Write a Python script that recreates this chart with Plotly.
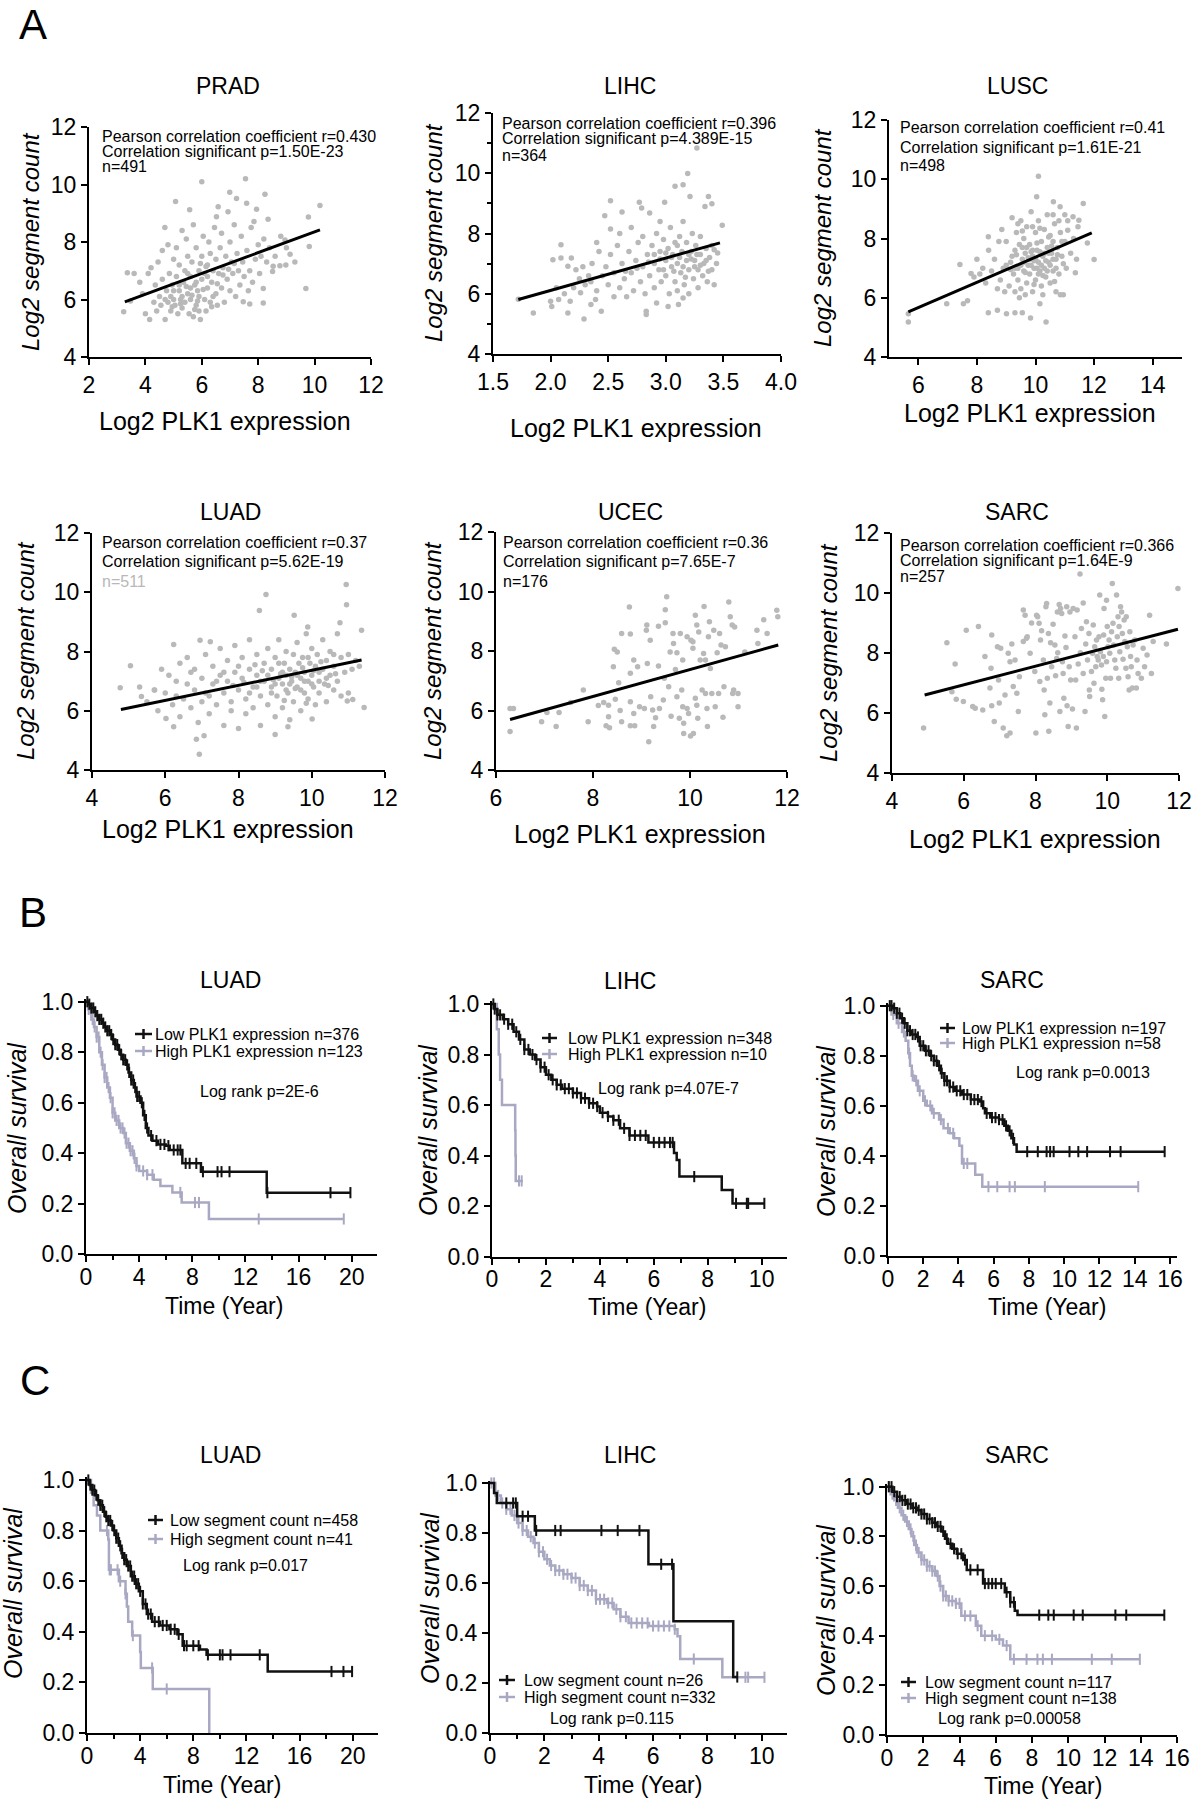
import plotly.graph_objects as go

W, H = 1192, 1800
FONT = "Liberation Sans, Arial, Helvetica, sans-serif"
PT_COL = "#b9b9b9"
LOW_C = "#111111"
HIGH_C = "#a9a8c3"

# ---------------- Panel A data (Log2 PLK1 expression, Log2 segment count) ----------------
prad_pts = [(6.0,10.1),(7.55,10.2),(5.07,9.41),(6.99,9.73),(7.23,9.51),(8.24,9.66),(10.19,9.27),(9.78,8.87),(9.81,7.84),(9.69,6.38),
    (5.57,9.12),(6.58,9.23),(6.93,9.05),(7.59,9.35),(7.94,9.14),(4.69,8.5),(6.52,8.88),(8.35,8.79),(7.85,8.71),(8.95,8.07),
    (9.13,7.57),(8.98,7.2),(8.77,7.17),(8.53,7.16),(8.51,6.97),(8.18,6.38),(8.18,5.88),(7.7,5.84),(7.47,5.92),(3.23,5.57),
    (3.36,6.93),(3.47,5.95),(3.6,6.9),(3.8,6.6),(3.9,6.2),(4.0,5.5),(4.1,6.9),(4.15,5.3),(4.2,7.1),(4.3,5.9),(4.35,6.5),
    (4.4,5.6),(4.45,7.3),(4.5,6.1),(4.55,5.8),(4.6,7.7),(4.6,6.7),(4.7,5.3),(4.75,6.3),(4.8,7.9),(4.8,5.9),(4.85,6.9),
    (4.9,5.6),(4.95,6.5),(5.0,7.4),(5.0,6.0),(5.05,5.8),(5.1,6.8),(5.1,7.8),(5.15,5.5),(5.2,6.3),(5.2,7.2),(5.25,6.0),
    (5.3,8.4),(5.3,5.7),(5.35,6.6),(5.4,7.0),(5.4,5.9),(5.45,8.1),(5.5,6.2),(5.5,7.5),(5.55,5.5),(5.6,6.8),(5.6,6.0),
    (5.65,7.3),(5.7,5.4),(5.7,8.6),(5.75,6.5),(5.8,7.8),(5.8,5.8),(5.85,6.3),(5.9,7.0),(5.9,6.1),(5.95,5.3),(6.0,6.7),
    (6.0,7.5),(6.05,8.2),(6.1,6.0),(6.1,6.9),(6.15,5.6),(6.2,7.2),(6.2,6.4),(6.25,8.0),(6.3,5.9),(6.3,7.6),(6.35,6.6),
    (6.4,7.0),(6.45,8.5),(6.5,6.2),(6.5,7.4),(6.55,5.8),(6.6,6.9),(6.65,7.8),(6.7,6.4),(6.7,8.3),(6.75,7.1),(6.8,5.9),
    (6.85,7.5),(6.9,6.7),(7.0,8.0),(7.0,6.3),(7.05,7.3),(7.1,6.9),(7.15,8.6),(7.2,6.1),(7.25,7.6),(7.3,7.0),(7.35,6.5),
    (7.4,8.2),(7.45,7.3),(7.5,6.8),(7.6,7.7),(7.65,6.3),(7.7,7.0),(7.75,8.5),(7.8,6.6),(7.9,7.4),(8.0,7.9),(8.05,6.9),
    (8.1,7.5),(8.2,8.1),(8.3,7.3),(8.4,7.8),(8.6,7.5),(8.8,8.2),(9.0,7.8),(9.3,7.3),(5.2,6.5),(5.6,6.4),(5.0,6.3),(4.9,6.1),
    (5.3,6.1),(5.8,6.6),(6.2,6.8),(5.5,6.9),(4.7,6.0),(5.9,5.6),(6.4,6.1),(5.45,6.45),(5.65,6.15),(5.85,5.95),(6.05,6.35),
    (5.25,5.85),(5.75,5.65),(6.35,5.75),(4.95,5.75),(6.55,6.55),(6.75,6.85),(6.15,7.15),(5.95,7.25),(6.95,7.05),(7.15,7.25)]
prad_fit_x = [3.27, 10.19]
prad_fit_y = [5.92, 8.42]

lihc_pts = [(3.27,10.84),(3.19,9.99),(3.08,9.57),(3.15,9.62),(2.52,9.09),(2.77,9.04),(2.99,9.04),(3.21,9.23),(3.37,9.23),
    (3.40,8.99),(3.34,8.9),(3.49,8.27),(2.47,8.59),(2.62,8.71),(2.86,8.68),(2.95,8.4),(2.79,8.85),(2.52,8.15),(2.09,7.63),
    (2.02,7.13),(2.09,7.19),(2.18,7.19),(2.15,6.91),(2.22,6.8),(2.26,6.03),(2.17,5.75),(2.07,5.81),(2.0,5.75),(2.01,5.58),
    (1.85,5.36),(2.15,5.36),(2.29,5.16),(2.35,5.64),(2.39,5.81),(2.44,5.42),(2.83,5.42),(2.92,5.69),(3.02,5.58),(3.11,5.64),
    (3.15,5.86),(2.83,5.31),(3.42,7.46),(3.45,7.35),(1.72,5.82),(2.3,6.3),(2.33,6.6),(2.36,7.0),(2.4,6.1),(2.42,7.4),
    (2.45,6.6),(2.48,6.9),(2.5,6.3),(2.52,7.3),(2.55,5.9),(2.55,6.7),(2.58,7.6),(2.6,6.2),(2.62,7.0),(2.64,6.5),(2.66,5.9),
    (2.68,7.4),(2.7,6.7),(2.72,6.1),(2.74,7.1),(2.76,7.7),(2.78,6.4),(2.8,6.9),(2.8,7.9),(2.82,6.0),(2.84,7.3),(2.86,6.6),
    (2.88,7.6),(2.9,6.2),(2.9,7.0),(2.92,8.0),(2.94,6.8),(2.95,7.4),(2.96,6.4),(2.98,7.8),(3.0,7.1),(3.0,6.6),(3.02,7.5),
    (3.03,6.0),(3.04,8.2),(3.05,6.9),(3.06,7.3),(3.08,6.4),(3.08,7.7),(3.1,7.0),(3.1,6.1),(3.12,7.9),(3.13,6.7),(3.14,7.4),
    (3.15,8.4),(3.16,6.3),(3.18,7.1),(3.18,7.7),(3.2,6.8),(3.2,6.0),(3.22,7.4),(3.23,8.0),(3.24,6.5),(3.25,7.1),(3.26,7.6),
    (3.28,6.8),(3.28,6.2),(3.3,7.3),(3.3,7.9),(3.32,6.6),(3.33,7.0),(3.35,7.5),(3.36,6.4),(3.38,7.2),(3.4,6.8),(3.4,7.6),
    (3.42,6.3),(3.44,7.0),(2.25,6.5),(2.2,6.2),(2.28,6.9),(2.35,6.4),(2.12,6.0),(2.05,6.2),(2.4,7.7),(2.7,8.2),(2.6,8.0),
    (3.05,7.2),(3.12,7.2),(3.2,7.3),(3.27,7.3),(3.35,7.1),(2.98,6.8),(3.15,6.9),(3.25,6.9),(2.9,7.3),(3.1,7.6),
    (2.85,7.05),(2.95,7.15),(3.07,6.75),(3.17,6.55),(3.3,6.95),(2.75,6.85),(2.65,6.75),(3.37,6.75),(3.22,7.15),(3.0,7.35)]
lihc_fit_x = [1.72, 3.47]
lihc_fit_y = [5.81, 7.69]

lusc_pts = [(10.1,10.1),(10.04,9.41),(10.61,9.24),(11.63,9.18),(10.84,9.07),(5.66,5.46),(5.66,5.18),(6.97,5.8),(7.54,5.8),
    (7.68,5.9),(7.42,7.12),(7.8,6.82),(8.39,8.06),(8.39,5.49),(8.7,5.58),(9.01,5.46),(9.3,5.49),(9.55,5.49),(9.83,5.32),
    (10.36,5.18),(10.15,5.8),(12.0,7.29),(11.77,7.85),(11.36,6.84),(11.48,8.62),(11.28,8.73),(11.1,8.28),
    (9.0,7.9),(9.1,6.4),(9.15,7.2),(9.2,8.7),(9.25,6.8),(9.3,7.6),(9.3,6.2),(9.35,8.2),(9.4,7.0),(9.4,6.6),(9.45,7.8),
    (9.5,8.6),(9.5,6.3),(9.55,7.3),(9.6,6.9),(9.6,8.0),(9.65,7.5),(9.7,6.5),(9.7,8.4),(9.75,7.1),(9.8,6.8),(9.8,7.8),
    (9.85,8.9),(9.9,6.2),(9.9,7.4),(9.95,7.0),(10.0,8.2),(10.0,6.6),(10.05,7.6),(10.1,7.2),(10.1,8.6),(10.15,6.9),
    (10.2,7.9),(10.2,6.4),(10.25,7.4),(10.3,8.3),(10.3,7.0),(10.35,6.7),(10.4,7.7),(10.4,8.8),(10.45,7.2),(10.5,6.5),
    (10.5,8.1),(10.55,7.5),(10.6,6.9),(10.6,7.9),(10.65,8.5),(10.7,7.3),(10.7,6.2),(10.75,7.7),(10.8,6.8),(10.85,8.2),
    (10.9,7.4),(10.95,6.1),(11.0,7.9),(11.05,7.0),(11.1,8.6),(11.2,7.5),(11.3,8.0),(11.4,7.3),(11.45,8.4),(8.4,7.6),
    (8.5,6.9),(8.6,7.3),(8.7,6.3),(8.75,7.9),(8.8,6.6),(8.85,8.3),(8.9,7.0),(8.95,6.2),(8.2,7.0),(8.3,6.5),(8.1,6.8),
    (7.9,6.7),(8.0,7.3),(9.2,7.4),(9.6,7.2),(9.9,7.6),(10.0,7.3),(10.1,6.8),(10.3,7.5),(10.5,7.1),(10.7,7.0),(10.2,7.1),
    (9.7,7.7),(9.5,7.1),(9.8,7.3),(10.4,6.9),(10.6,7.3),(9.3,7.0),(9.0,7.1),(10.9,7.9),(10.8,8.6),(9.4,8.5),(9.9,8.4),
    (10.6,8.8),(11.0,8.8),(9.65,6.1),(10.25,6.1),(10.85,6.1),(9.45,6.0),(10.05,7.0),(9.85,7.1),(10.45,7.5),(9.55,7.7),
    (9.75,7.35),(9.95,7.25),(10.15,7.55),(10.35,7.25),(10.55,7.75),(9.85,7.55),(10.05,7.85),(9.65,6.85),(10.25,6.75),
    (10.45,8.05),(9.35,7.45),(9.15,6.95),(10.75,7.45),(10.95,7.15),(9.55,8.25),(10.15,8.35),(9.95,6.45),(10.65,6.55)]
lusc_fit_x = [5.66, 11.92]
lusc_fit_y = [5.52, 8.19]

luad_pts = [(10.94,10.26),(10.95,9.58),(8.75,9.92),(8.57,9.38),(9.52,9.22),(10.77,8.97),(11.36,8.72),(9.89,8.83),
    (11.43,6.11),(4.77,6.78),(5.05,7.52),(5.35,6.48),(5.71,6.7),(6.23,8.24),(6.95,8.38),(7.23,8.33),(6.02,5.74),(6.23,5.46),
    (6.85,5.04),(7.06,5.16),(6.93,4.53),(9.0,5.2),(9.35,5.46),(10.01,5.72),(11.12,6.38),(10.97,6.33),
    (5.5,6.3),(5.8,6.0),(5.9,7.4),(6.0,6.6),(6.1,7.2),(6.2,6.2),(6.3,7.0),(6.4,5.8),(6.4,7.6),(6.5,6.4),(6.6,6.9),(6.6,7.8),
    (6.7,6.1),(6.8,6.7),(6.8,7.4),(6.9,5.6),(7.0,6.3),(7.0,7.1),(7.1,7.9),(7.1,6.6),(7.2,5.9),(7.3,6.9),(7.3,7.5),(7.4,6.2),
    (7.5,7.2),(7.5,8.1),(7.6,6.6),(7.6,5.5),(7.7,7.0),(7.7,7.7),(7.8,6.3),(7.8,6.0),(7.9,7.3),(7.9,8.2),(8.0,6.7),(8.0,5.4),
    (8.1,7.1),(8.1,7.8),(8.2,6.4),(8.2,5.9),(8.3,7.4),(8.3,8.4),(8.4,6.8),(8.4,6.1),(8.5,7.2),(8.5,7.9),(8.6,6.5),(8.6,5.5),
    (8.7,7.0),(8.7,7.6),(8.8,6.2),(8.8,8.1),(8.9,6.8),(8.9,7.4),(9.0,5.8),(9.0,7.8),(9.05,6.5),(9.1,7.1),(9.1,8.4),(9.2,6.9),
    (9.2,6.1),(9.25,7.6),(9.3,7.2),(9.3,8.0),(9.35,6.6),(9.4,7.4),(9.4,5.7),(9.45,7.0),(9.5,7.9),(9.5,6.3),(9.55,7.3),
    (9.6,8.3),(9.6,6.8),(9.65,7.6),(9.7,7.1),(9.7,6.0),(9.75,7.8),(9.8,6.6),(9.8,7.3),(9.85,8.6),(9.9,7.0),(9.9,6.4),
    (9.95,7.6),(10.0,7.2),(10.0,8.1),(10.05,6.8),(10.1,7.5),(10.1,6.2),(10.15,7.9),(10.2,7.0),(10.2,6.6),(10.3,7.4),
    (10.3,8.4),(10.35,6.9),(10.4,7.7),(10.4,6.3),(10.5,7.2),(10.5,8.0),(10.6,6.7),(10.6,7.5),(10.7,8.6),(10.7,7.0),
    (10.8,7.8),(10.8,6.5),(10.9,7.3),(11.0,7.9),(11.0,6.6),(11.1,7.4),(11.2,7.7),(11.3,7.5),(9.0,6.9),(9.2,7.3),(9.4,6.9),
    (9.6,7.2),(9.8,7.0),(10.0,6.9),(8.8,7.2),(8.6,7.0),(10.2,7.3),(10.4,7.1),(9.3,6.7),(9.7,6.7),(8.9,6.6),(8.3,6.6),
    (7.4,7.0),(7.2,6.5),(6.7,7.3),(6.3,6.5),(5.7,6.7),(5.3,6.8),(8.5,6.8),(9.1,7.6),(9.9,7.8),(10.6,7.9),(8.0,7.5),(7.6,7.3),
    (9.15,7.25),(9.45,7.15),(9.75,7.45),(10.05,7.35),(10.25,7.65),(9.55,6.75),(8.95,7.05),(10.45,6.85),(8.65,7.35),
    (7.85,6.85),(8.15,6.95),(9.85,6.25),(10.65,7.25),(8.45,7.55),(9.25,6.35)]
luad_fit_x = [4.79, 11.36]
luad_fit_y = [6.04, 7.71]

ucec_pts = [(6.29,6.07),(6.36,6.07),(6.29,5.29),(6.94,5.62),(7.05,5.93),(7.24,5.46),(7.30,5.93),(7.54,6.27),(7.80,6.69),
    (7.90,5.62),(8.11,6.17),(8.22,6.27),(8.32,6.18),(8.32,5.79),(8.27,5.49),(8.34,5.42),(8.44,8.06),(8.50,7.97),(8.46,6.38),
    (8.53,6.93),(8.56,6.0),(8.59,5.62),(8.59,8.59),(8.75,9.48),(8.77,8.57),(8.77,7.25),(8.77,6.29),(8.77,5.49),(8.84,5.9),
    (8.86,5.49),(8.84,7.7),(8.92,7.47),(8.96,6.13),(9.06,6.07),(9.10,8.70),(9.11,8.87),(9.12,7.58),(9.15,4.95),(9.18,8.36),
    (9.19,6.46),(9.23,6.02),(9.25,5.46),(9.29,5.76),(9.35,8.83),(9.35,7.5),(9.37,6.07),(9.45,6.35),(9.47,7.08),(9.49,8.95),
    (9.49,9.39),(9.52,9.82),(9.56,6.8),(9.59,7.97),(9.61,5.81),(9.65,8.59),(9.66,8.25),(9.70,7.38),(9.73,7.94),(9.73,6.46),
    (9.78,5.74),(9.80,8.59),(9.83,6.69),(9.85,7.7),(9.85,6.13),(9.87,5.57),(9.87,5.23),(9.94,6.07),(9.94,8.48),(9.97,5.9),
    (10.01,5.14),(10.02,8.36),(10.06,8.09),(10.06,8.31),(10.07,5.23),(10.11,9.2),(10.11,6.41),(10.14,8.87),(10.14,6.18),
    (10.16,5.74),(10.18,8.64),(10.21,7.7),(10.25,6.69),(10.28,7.92),(10.29,9.5),(10.32,7.7),(10.32,6.57),(10.35,6.07),
    (10.36,5.46),(10.38,8.48),(10.40,8.98),(10.42,7.41),(10.45,6.57),(10.49,8.7),(10.52,6.13),(10.56,7.94),(10.59,6.57),
    (10.61,8.59),(10.64,8.2),(10.68,5.77),(10.70,6.8),(10.73,8.14),(10.80,9.65),(10.83,9.15),(10.87,8.87),(10.88,6.57),
    (10.9,6.69),(10.99,6.13),(11.13,7.97),(11.38,8.7),(11.40,8.25),(11.59,8.59),(11.79,9.37),(11.81,9.15),(10.99,6.57),
    (8.42,7.47),(10.92,8.81),(11.52,9.05)]
ucec_fit_x = [6.29, 11.82]
ucec_fit_y = [5.70, 8.20]

sarc_pts = [(4.88,5.5),(5.53,8.34),(5.76,7.63),(5.67,6.71),(5.79,6.46),(5.99,6.38),(6.07,8.76),(6.25,6.22),(6.32,6.16),
    (6.41,8.88),(6.53,6.1),(6.59,7.88),(6.73,6.83),(6.76,7.49),(6.78,8.6),(6.78,6.24),(6.85,5.72),(6.94,8.21),(6.97,7.1),
    (6.99,6.33),(7.03,8.16),(7.1,5.5),(7.15,6.6),(7.2,5.24),(7.24,7.99),(7.29,7.71),(7.29,5.33),(7.34,8.3),(7.38,6.88),
    (7.43,7.77),(7.48,6.66),(7.52,6.05),(7.55,7.21),(7.66,8.38),(7.66,9.43),(7.71,9.26),(7.75,8.49),(7.77,8.54),(7.85,7.99),
    (7.89,9.0),(7.98,7.38),(8.01,5.33),(8.03,9.26),(8.06,9.21),(8.1,8.99),(8.12,7.05),(8.14,8.43),(8.17,8.74),(8.22,7.77),
    (8.24,6.77),(8.26,5.94),(8.29,9.54),(8.31,9.65),(8.33,7.16),(8.36,8.65),(8.37,5.39),(8.4,6.33),(8.42,8.34),(8.45,7.54),
    (8.49,8.96),(8.54,8.27),(8.56,7.24),(8.59,7.82),(8.61,9.37),(8.62,8.01),(8.66,9.62),(8.68,6.05),(8.7,9.48),(8.73,9.32),
    (8.75,7.71),(8.77,7.32),(8.79,6.49),(8.82,8.57),(8.85,8.18),(8.87,9.54),(8.88,6.24),(8.91,5.55),(8.94,7.54),(8.96,9.37),
    (8.98,7.1),(9.03,6.13),(9.05,9.48),(9.1,8.54),(9.12,7.1),(9.14,5.5),(9.16,9.43),(9.19,7.63),(9.24,10.63),(9.25,8.01),
    (9.28,8.82),(9.33,7.32),(9.33,9.67),(9.38,6.05),(9.4,8.3),(9.42,9.04),(9.45,7.77),(9.49,8.65),(9.5,6.77),(9.51,6.55),
    (9.56,7.38),(9.59,7.99),(9.61,8.93),(9.63,6.99),(9.65,8.21),(9.68,7.54),(9.7,8.43),(9.72,7.88),(9.75,7.77),(9.77,8.54),
    (9.79,9.93),(9.81,8.04),(9.84,7.6),(9.85,6.79),(9.87,6.44),(9.89,7.88),(9.9,8.6),(9.91,9.48),(9.93,5.88),(9.96,7.16),
    (9.98,7.71),(9.98,9.76),(10.0,8.88),(10.02,8.21),(10.05,8.43),(10.07,7.99),(10.09,7.16),(10.12,8.71),(10.14,10.32),
    (10.16,8.99),(10.18,8.27),(10.21,7.77),(10.24,7.49),(10.26,9.93),(10.28,8.54),(10.3,9.21),(10.32,7.16),(10.33,8.88),
    (10.35,8.04),(10.37,9.54),(10.4,9.37),(10.42,8.65),(10.44,7.79),(10.47,9.1),(10.49,8.38),(10.52,7.49),(10.53,9.21),
    (10.56,8.21),(10.58,7.21),(10.61,6.77),(10.63,8.71),(10.65,7.88),(10.67,7.54),(10.7,6.83),(10.72,8.27),(10.77,8.43),
    (10.81,6.83),(10.83,7.77),(10.86,7.32),(10.95,7.16),(11.0,8.16),(11.04,7.54),(11.11,7.93),(11.18,9.26),(11.23,7.32),
    (11.28,8.38),(11.65,8.3),(11.97,10.15)]
sarc_fit_x = [4.91, 11.97]
sarc_fit_y = [6.60, 8.79]

# ---------------- Panel B data (PLK1 expression groups) ----------------
b_luad_low_t = [0,0.2,0.4,0.6,0.8,1.0,1.2,1.4,1.6,1.8,2.0,2.2,2.4,2.6,2.8,3.0,3.2,3.4,3.6,3.8,4.1,4.3,4.5,4.7,5.0,5.4,6.0,6.3,7.25,8.65,13.6,19.9]
b_luad_low_s = [1.0,0.99,0.975,0.96,0.945,0.93,0.915,0.9,0.885,0.87,0.85,0.83,0.81,0.79,0.77,0.75,0.72,0.69,0.66,0.625,0.6,0.55,0.5,0.47,0.45,0.435,0.43,0.413,0.36,0.327,0.244,0.244]
b_luad_low_c = [0.1,0.25,0.4,0.55,0.7,0.85,1.0,1.15,1.3,1.45,1.6,1.75,1.9,2.05,2.2,2.35,2.5,2.65,2.8,2.95,3.1,3.25,3.4,3.55,3.7,3.85,4.0,4.2,4.4,4.6,4.9,5.3,5.6,5.9,6.2,6.6,6.9,7.1,7.5,7.8,8.3,8.8,9.9,10.2,10.8,13.65,18.4,19.9]
b_luad_high_t = [0,0.15,0.4,0.6,0.8,1.0,1.2,1.4,1.6,1.8,2.0,2.2,2.5,2.8,3.0,3.3,3.6,3.8,4.0,4.6,5.1,5.6,6.5,7.2,9.25,19.4]
b_luad_high_s = [1.0,0.97,0.93,0.9,0.86,0.8,0.75,0.7,0.66,0.62,0.56,0.53,0.5,0.48,0.44,0.41,0.38,0.35,0.33,0.315,0.295,0.27,0.245,0.205,0.14,0.14]
b_luad_high_c = [0.2,0.35,0.5,0.65,0.8,0.95,1.1,1.25,1.4,1.55,1.7,1.85,2.0,2.15,2.3,2.45,2.6,2.75,2.9,3.05,3.2,3.35,3.5,3.65,3.8,4.3,4.6,5.0,7.1,8.2,8.5,13.0,19.4]

b_lihc_low_t = [0,0.1,0.2,0.4,0.6,0.8,1.0,1.2,1.4,1.6,1.8,2.0,2.2,2.4,2.6,3.0,3.3,3.6,3.9,4.0,4.3,4.5,4.75,5.1,5.8,6.75,6.85,6.95,8.52,8.92,10.1]
b_lihc_low_s = [1.0,0.98,0.957,0.94,0.92,0.89,0.86,0.82,0.8,0.78,0.75,0.72,0.70,0.68,0.665,0.648,0.627,0.607,0.594,0.57,0.555,0.54,0.508,0.48,0.452,0.41,0.383,0.317,0.264,0.211,0.211]
b_lihc_low_c = [0.05,0.1,0.2,0.3,0.45,0.6,0.75,0.9,1.05,1.2,1.35,1.5,1.65,1.8,1.95,2.1,2.25,2.4,2.55,2.7,2.85,3.0,3.15,3.3,3.45,3.6,3.75,3.9,4.1,4.3,4.5,4.7,4.9,5.1,5.3,5.5,5.7,6.0,6.2,6.4,6.6,6.7,7.5,9.05,9.45,9.5,10.1]
b_lihc_high_t = [0,0.18,0.25,0.3,0.37,0.86,0.87,0.88,1.15]
b_lihc_high_s = [1.0,0.9,0.8,0.7,0.6,0.5,0.4,0.3,0.3]
b_lihc_high_c = [1.0,1.1]

b_sarc_low_t = [0,0.3,0.5,0.7,0.9,1.1,1.3,1.6,1.8,2.1,2.4,2.6,2.8,3.0,3.2,3.5,3.8,4.2,4.7,5.2,5.4,5.5,5.8,6.3,6.6,6.8,7.0,7.15,7.3,15.7]
b_sarc_low_s = [1.0,0.99,0.97,0.95,0.93,0.9,0.885,0.875,0.84,0.82,0.8,0.78,0.76,0.73,0.70,0.675,0.66,0.645,0.625,0.617,0.59,0.57,0.553,0.545,0.52,0.5,0.47,0.445,0.417,0.417]
b_sarc_low_c = [0.1,0.2,0.35,0.5,0.65,0.8,0.95,1.1,1.25,1.4,1.55,1.7,1.85,2.0,2.15,2.3,2.45,2.6,2.75,2.9,3.05,3.2,3.35,3.5,3.7,3.9,4.1,4.3,4.5,4.7,4.9,5.1,5.3,5.6,5.9,6.1,6.3,6.5,6.7,6.9,7.1,7.9,8.5,9.0,9.2,9.4,10.3,10.8,11.3,12.6,13.2,15.7]
b_sarc_high_t = [0,0.2,0.5,0.8,1.0,1.15,1.25,1.35,1.5,1.7,2.0,2.2,2.5,2.9,3.15,3.5,3.75,4.05,4.2,4.95,5.35,14.2]
b_sarc_high_s = [1.0,0.965,0.93,0.895,0.86,0.81,0.76,0.72,0.7,0.66,0.62,0.6,0.57,0.545,0.51,0.49,0.47,0.44,0.37,0.325,0.277,0.277]
b_sarc_high_c = [0.3,0.6,0.9,1.2,1.4,1.6,1.8,2.1,2.4,2.6,3.0,3.4,3.7,4.3,4.5,5.7,6.2,6.9,7.2,8.9,14.2]

# ---------------- Panel C data (segment count groups) ----------------
c_luad_low_t = [0,0.2,0.4,0.6,0.8,1.0,1.2,1.4,1.6,1.8,2.0,2.2,2.4,2.6,2.8,3.0,3.3,3.6,3.9,4.2,4.5,4.9,5.5,6.2,6.8,7.2,8.5,9.0,13.6,19.95]
c_luad_low_s = [1.0,0.98,0.96,0.94,0.92,0.9,0.875,0.855,0.84,0.82,0.8,0.77,0.74,0.71,0.685,0.66,0.62,0.59,0.56,0.51,0.47,0.44,0.425,0.41,0.39,0.345,0.33,0.309,0.243,0.243]
c_luad_low_c = [0.1,0.25,0.4,0.55,0.7,0.85,1.0,1.15,1.3,1.45,1.6,1.75,1.9,2.05,2.2,2.35,2.5,2.65,2.8,2.95,3.1,3.25,3.4,3.55,3.7,3.85,4.0,4.2,4.4,4.6,4.8,5.1,5.4,5.7,6.0,6.3,6.6,6.9,7.3,7.5,8.0,8.4,9.1,10.0,10.2,10.8,13.0,18.4,19.3,19.95]
c_luad_high_t = [0,0.3,0.5,0.75,1.0,1.6,1.65,2.4,2.9,3.0,3.1,3.4,4.0,4.05,4.95,9.2]
c_luad_high_s = [1.0,0.95,0.9,0.86,0.8,0.765,0.645,0.6,0.55,0.5,0.44,0.385,0.32,0.257,0.174,0.0]
c_luad_high_c = [1.5,1.7,1.8,2.3,2.5,2.9,3.45,4.9,6.0]

c_lihc_low_t = [0,0.15,0.25,1.0,1.65,5.83,6.75,8.95,9.1]
c_lihc_low_s = [1.0,0.96,0.92,0.867,0.81,0.675,0.447,0.224,0.224]
c_lihc_low_c = [0.6,0.85,0.95,1.2,1.4,1.7,2.4,2.6,4.1,4.7,5.5,6.3,6.7,9.1]
c_lihc_high_t = [0,0.2,0.4,0.6,0.8,1.0,1.2,1.4,1.6,1.8,2.0,2.2,2.4,2.7,3.0,3.3,3.6,3.9,4.3,4.55,4.8,5.1,5.85,6.8,6.9,7.0,8.55,10.1]
c_lihc_high_s = [1.0,0.95,0.92,0.895,0.87,0.84,0.81,0.785,0.76,0.725,0.695,0.67,0.65,0.635,0.62,0.59,0.57,0.535,0.52,0.495,0.465,0.44,0.428,0.415,0.387,0.296,0.223,0.223]
c_lihc_high_c = [0.05,0.15,0.3,0.45,0.6,0.75,0.9,1.05,1.2,1.35,1.5,1.65,1.8,1.95,2.1,2.25,2.4,2.55,2.7,2.85,3.0,3.15,3.3,3.45,3.6,3.75,3.9,4.05,4.2,4.35,4.5,4.65,4.8,5.0,5.2,5.4,5.6,5.8,6.0,6.2,6.4,6.6,6.8,7.5,9.4,9.5,10.1]

c_sarc_low_t = [0,0.3,0.55,0.8,1.1,1.4,1.65,1.9,2.2,2.5,2.75,3.0,3.2,3.35,3.6,3.85,4.2,4.4,5.3,6.5,6.8,7.05,7.2,15.3]
c_sarc_low_s = [1.0,0.98,0.96,0.945,0.93,0.915,0.905,0.89,0.87,0.855,0.84,0.82,0.79,0.77,0.75,0.73,0.705,0.665,0.61,0.575,0.535,0.5,0.483,0.483]
c_sarc_low_c = [0.1,0.25,0.4,0.55,0.7,0.85,1.0,1.15,1.3,1.45,1.6,1.75,1.9,2.05,2.2,2.35,2.5,2.65,2.8,2.95,3.1,3.3,3.5,3.7,3.9,4.1,4.3,4.6,5.0,5.4,5.6,5.8,6.0,6.3,6.6,6.8,7.0,8.4,8.9,9.2,10.3,10.8,12.6,13.2,15.3]
c_sarc_high_t = [0,0.2,0.4,0.6,0.8,1.0,1.2,1.35,1.5,1.65,1.9,2.2,2.5,2.75,2.9,3.1,3.4,3.8,4.1,4.9,5.2,6.0,6.4,6.8,13.95]
c_sarc_high_s = [1.0,0.97,0.945,0.915,0.885,0.86,0.83,0.8,0.765,0.735,0.705,0.68,0.66,0.64,0.6,0.56,0.54,0.53,0.48,0.44,0.4,0.385,0.36,0.305,0.305]
c_sarc_high_c = [0.1,0.3,0.5,0.7,0.9,1.1,1.3,1.45,1.6,1.75,1.9,2.05,2.2,2.35,2.5,2.65,2.8,2.95,3.1,3.25,3.4,3.6,3.8,4.0,4.3,4.6,5.0,5.4,5.8,6.2,6.6,7.0,7.7,8.3,8.6,9.1,11.3,12.4,13.95]

# ---------------- helpers ----------------
def px_x(v):
    return v / W

def px_y(v):
    return 1 - v / H

def surv_at(ts, ss, t):
    s = ss[0]
    for ti, si in zip(ts, ss):
        if ti <= t:
            s = si
    return s

fig = go.Figure()
annotations = []
shapes = []

def ann(x, y, text, size, xanchor="center", color="black", angle=0):
    annotations.append(dict(x=px_x(x), y=px_y(y), xref="paper", yref="paper", text=text, showarrow=False,
                            xanchor=xanchor, yanchor="middle", textangle=angle,
                            font=dict(family=FONT, size=size, color=color)))

def axis_common(size):
    return dict(showline=True, linecolor="black", linewidth=2, ticks="outside", ticklen=6, tickwidth=2,
                tickcolor="black", showgrid=False, zeroline=False, automargin=False,
                tickfont=dict(family=FONT, size=size, color="black"))

axis_idx = [0]

def new_axes(xpix, ypix, xr, yr, xdt, ydt, xfmt=None, yfmt=None, tsize=20, xminor=None, yminor=None, xstand=0):
    axis_idx[0] += 1
    i = axis_idx[0]
    sfx = "" if i == 1 else str(i)
    xa = axis_common(tsize)
    xa.update(domain=[px_x(xpix[0]), px_x(xpix[1])], range=xr, dtick=xdt, tick0=0, anchor="y" + sfx,
              ticklabelstandoff=xstand)
    ya = axis_common(tsize)
    ya.update(domain=[px_y(ypix[1]), px_y(ypix[0])], range=yr, dtick=ydt, tick0=0, anchor="x" + sfx)
    if xfmt:
        xa["tickformat"] = xfmt
    if yfmt:
        ya["tickformat"] = yfmt
    if xminor:
        xa["minor"] = dict(dtick=xminor, ticks="outside", ticklen=4, tickwidth=2, tickcolor="black", showgrid=False)
    if yminor:
        ya["minor"] = dict(dtick=yminor, ticks="outside", ticklen=4, tickwidth=2, tickcolor="black", showgrid=False)
    fig.layout["xaxis" + sfx] = xa
    fig.layout["yaxis" + sfx] = ya
    return "x" + sfx, "y" + sfx

# ---------------- Scatter panels ----------------
scatter_panels = [
    dict(name="PRAD", pts=prad_pts, fx=prad_fit_x, fy=prad_fit_y, r="0.430", p="1.50E-23", n="491",
         xpix=(89, 371), ypix=(127, 357), xr=[2, 12], xdt=2, fmt=None, ym=None,
         title=(228, 86), txt=(100, [136, 152, 167]), ytl=(30, 242), xtl=(225, 421), ncol="black"),
    dict(name="LIHC", pts=lihc_pts, fx=lihc_fit_x, fy=lihc_fit_y, r="0.396", p="4.389E-15", n="364",
         xpix=(493, 781), ypix=(113, 354), xr=[1.5, 4.0], xdt=0.5, fmt=".1f", ym=1,
         title=(630, 86), txt=(500, [123, 139, 155]), ytl=(433, 233), xtl=(636, 428), ncol="black"),
    dict(name="LUSC", pts=lusc_pts, fx=lusc_fit_x, fy=lusc_fit_y, r="0.41", p="1.61E-21", n="498",
         xpix=(889, 1182), ypix=(120, 357), xr=[5, 15], xdt=2, fmt=None, ym=None,
         title=(1017, 86), txt=(898, [127, 147, 166]), ytl=(822, 238), xtl=(1030, 413), ncol="black"),
    dict(name="LUAD", pts=luad_pts, fx=luad_fit_x, fy=luad_fit_y, r="0.37", p="5.62E-19", n="511",
         xpix=(92, 385), ypix=(533, 770), xr=[4, 12], xdt=2, fmt=None, ym=None,
         title=(230, 512), txt=(100, [542, 562, 582]), ytl=(25, 651), xtl=(228, 829), ncol="#b8b8b8"),
    dict(name="UCEC", pts=ucec_pts, fx=ucec_fit_x, fy=ucec_fit_y, r="0.36", p="7.65E-7", n="176",
         xpix=(496, 787), ypix=(532, 770), xr=[6, 12], xdt=2, fmt=None, ym=None,
         title=(630, 512), txt=(501, [542, 562, 582]), ytl=(432, 651), xtl=(640, 834), ncol="black"),
    dict(name="SARC", pts=sarc_pts, fx=sarc_fit_x, fy=sarc_fit_y, r="0.366", p="1.64E-9", n="257",
         xpix=(892, 1179), ypix=(533, 773), xr=[4, 12], xdt=2, fmt=None, ym=None,
         title=(1017, 512), txt=(898, [545, 560, 576]), ytl=(828, 653), xtl=(1035, 839), ncol="black"),
]

for sp in scatter_panels:
    xa, ya = new_axes(sp["xpix"], sp["ypix"], sp["xr"], [4, 12], sp["xdt"], 2, xfmt=sp["fmt"], tsize=23, yminor=sp["ym"])
    fig.add_trace(go.Scatter(x=[p[0] for p in sp["pts"]], y=[p[1] for p in sp["pts"]], mode="markers",
                             marker=dict(size=5.5, color=PT_COL), xaxis=xa, yaxis=ya, showlegend=False,
                             cliponaxis=False))
    fig.add_trace(go.Scatter(x=sp["fx"], y=sp["fy"], mode="lines", line=dict(color="black", width=3),
                             xaxis=xa, yaxis=ya, showlegend=False))
    ann(sp["title"][0], sp["title"][1], sp["name"], 23)
    tx, tys = sp["txt"]
    ann(tx, tys[0], "Pearson correlation coefficient r=" + sp["r"], 16, xanchor="left")
    ann(tx, tys[1], "Correlation significant p=" + sp["p"], 16, xanchor="left")
    ann(tx, tys[2], "n=" + sp["n"], 16, xanchor="left", color=sp["ncol"])
    ann(sp["ytl"][0], sp["ytl"][1], "<i>Log2 segment count</i>", 24, angle=-90)
    ann(sp["xtl"][0], sp["xtl"][1], "Log2 PLK1 expression", 25)

# ---------------- Kaplan-Meier panels ----------------
km_panels = [
    dict(name="LUAD", low=(b_luad_low_t, b_luad_low_s, b_luad_low_c), high=(b_luad_high_t, b_luad_high_s, b_luad_high_c),
         lab=("Low PLK1 expression n=376", "High PLK1 expression n=123"), p="2E-6",
         xpix=(86, 377), ypix=(1001.7, 1254.3), xr=[0, 21.9], xdt=4, xm=2,
         title=(230, 980), leg=(135, 152, 153, [1034, 1051]), lr=(259, 1091), ytl=(17, 1128), xtl=(224, 1306)),
    dict(name="LIHC", low=(b_lihc_low_t, b_lihc_low_s, b_lihc_low_c), high=(b_lihc_high_t, b_lihc_high_s, b_lihc_high_c),
         lab=("Low PLK1 expression n=348", "High PLK1 expression n=10"), p="4.07E-7",
         xpix=(492, 787), ypix=(1004, 1256.7), xr=[0, 10.94], xdt=2, xm=1,
         title=(630, 981), leg=(542, 557, 566, [1038, 1054]), lr=(668, 1088), ytl=(428, 1130), xtl=(647, 1307)),
    dict(name="SARC", low=(b_sarc_low_t, b_sarc_low_s, b_sarc_low_c), high=(b_sarc_high_t, b_sarc_high_s, b_sarc_high_c),
         lab=("Low PLK1 expression n=197", "High PLK1 expression n=58"), p="0.0013",
         xpix=(888, 1177), ypix=(1005.7, 1256), xr=[0, 16.4], xdt=2, xm=None,
         title=(1012, 980), leg=(940, 955, 960, [1028, 1043]), lr=(1083, 1072), ytl=(826, 1131), xtl=(1047, 1307)),
    dict(name="LUAD", low=(c_luad_low_t, c_luad_low_s, c_luad_low_c), high=(c_luad_high_t, c_luad_high_s, c_luad_high_c),
         lab=("Low segment count n=458", "High segment count n=41"), p="0.017",
         xpix=(87, 378), ypix=(1480, 1733), xr=[0, 21.9], xdt=4, xm=2,
         title=(230, 1455), leg=(148, 163, 168, [1520, 1539]), lr=(245, 1565), ytl=(13, 1593), xtl=(222, 1785)),
    dict(name="LIHC", low=(c_lihc_low_t, c_lihc_low_s, c_lihc_low_c), high=(c_lihc_high_t, c_lihc_high_s, c_lihc_high_c),
         lab=("Low segment count n=26", "High segment count n=332"), p="0.115",
         xpix=(490, 787), ypix=(1483, 1733), xr=[0, 10.93], xdt=2, xm=1,
         title=(630, 1455), leg=(499, 515, 522, [1680, 1697]), lr=(612, 1718), ytl=(430, 1598), xtl=(643, 1785)),
    dict(name="SARC", low=(c_sarc_low_t, c_sarc_low_s, c_sarc_low_c), high=(c_sarc_high_t, c_sarc_high_s, c_sarc_high_c),
         lab=("Low segment count n=117", "High segment count n=138"), p="0.00058",
         xpix=(887, 1177), ypix=(1486.7, 1735), xr=[0, 16.0], xdt=2, xm=None,
         title=(1017, 1455), leg=(901, 916, 923, [1682, 1698]), lr=(1009, 1718), ytl=(826, 1610), xtl=(1043, 1786)),
]

for kp in km_panels:
    y0p, y1p = kp["ypix"]
    top = y0p - 0.01 * (y1p - y0p)
    xa, ya = new_axes(kp["xpix"], (top, y1p), kp["xr"], [0, 1.01], kp["xdt"], 0.2, yfmt=".1f", tsize=23,
                      xminor=kp["xm"], xstand=-5)
    for (ts, ss, cs), col in [(kp["high"], HIGH_C), (kp["low"], LOW_C)]:
        fig.add_trace(go.Scatter(x=ts, y=ss, mode="lines", line=dict(color=col, width=2.5, shape="hv"),
                                 xaxis=xa, yaxis=ya, showlegend=False, cliponaxis=False))
        fig.add_trace(go.Scatter(x=cs, y=[surv_at(ts, ss, c) for c in cs], mode="markers",
                                 marker=dict(symbol="line-ns-open", size=8, color=col, line=dict(width=2, color=col)),
                                 xaxis=xa, yaxis=ya, showlegend=False, cliponaxis=False))
    ann(kp["title"][0], kp["title"][1], kp["name"], 23)
    lx0, lx1, ltx, lys = kp["leg"]
    for ly, col, lab in [(lys[0], LOW_C, kp["lab"][0]), (lys[1], HIGH_C, kp["lab"][1])]:
        shapes.append(dict(type="line", xref="paper", yref="paper", x0=px_x(lx0), x1=px_x(lx1),
                           y0=px_y(ly), y1=px_y(ly), line=dict(color=col, width=2.5)))
        xm = (lx0 + lx1) / 2
        shapes.append(dict(type="line", xref="paper", yref="paper", x0=px_x(xm), x1=px_x(xm),
                           y0=px_y(ly - 5), y1=px_y(ly + 5), line=dict(color=col, width=2.5)))
        ann(ltx, ly, lab, 16, xanchor="left")
    ann(kp["lr"][0], kp["lr"][1], "Log rank p=" + kp["p"], 16)
    ann(kp["ytl"][0], kp["ytl"][1], "<i>Overall survival</i>", 25, angle=-90)
    ann(kp["xtl"][0], kp["xtl"][1], "Time (Year)", 23)

# panel letters
ann(33, 25, "A", 42)
ann(33, 912, "B", 42)
ann(35, 1380, "C", 42)

fig.update_layout(width=W, height=H, margin=dict(l=0, r=0, t=0, b=0, autoexpand=False), paper_bgcolor="white",
                  plot_bgcolor="white", showlegend=False, annotations=annotations, shapes=shapes,
                  font=dict(family=FONT, color="black"))

fig.write_html("out.html", config={"displayModeBar": False},
               post_script="document.body.style.margin='0px'; document.body.style.overflow='hidden';")
